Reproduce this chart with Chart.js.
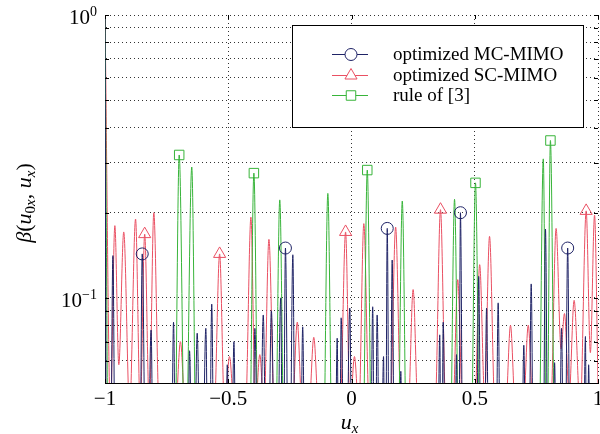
<!DOCTYPE html>
<html>
<head>
<meta charset="utf-8">
<script src="https://cdn.jsdelivr.net/npm/chart.js@4.4.1/dist/chart.umd.min.js"></script>
<style>
  html, body { margin: 0; padding: 0; background: #fff; }
  #wrap { width: 600px; height: 434px; }
</style>
</head>
<body>
<div id="wrap"><canvas id="beamChart" width="600" height="434"></canvas></div>
<script>
// beam pattern: u_x positions and beta values, lobe by lobe
const mcU = [
  -1, -0.993, -0.98, -0.968, -0.956, -0.861, -0.849, -0.831, -0.813, -0.801,
  -0.734, -0.722, -0.71, -0.667, -0.657, -0.642, -0.626, -0.609, -0.591, -0.579,
  -0.567, -0.555, -0.514, -0.504, -0.49, -0.477, -0.465, -0.404, -0.392, -0.375,
  -0.358, -0.342, -0.325, -0.306, -0.287, -0.278, -0.268, -0.253, -0.238, -0.226,
  -0.21, -0.198, -0.186, -0.07, -0.058, -0.05, -0.042, -0.025, -0.007, 0.005,
  0.074, 0.086, 0.095, 0.104, 0.117, 0.13, 0.137, 0.145, 0.155, 0.165,
  0.177, 0.19, 0.2, 0.21, 0.346, 0.358, 0.365, 0.372, 0.384, 0.415,
  0.426, 0.434, 0.442, 0.454, 0.504, 0.516, 0.528, 0.536, 0.548, 0.56,
  0.583, 0.595, 0.607, 0.687, 0.699, 0.711, 0.717, 0.729, 0.741, 0.775,
  0.787, 0.799, 0.814, 0.824, 0.834, 0.84, 0.852, 0.864, 0.877, 0.889,
  0.937, 0.949, 0.955, 0.962, 0.972, 1
];
const mcBeta = [
  1, 0.01, 0.01, 0.141, 0.01, 0.01, 0.143, 0.01, 0.077, 0.01,
  0.01, 0.082, 0.01, 0.01, 0.065, 0.01, 0.075, 0.01, 0.078, 0.01,
  0.095, 0.01, 0.01, 0.058, 0.01, 0.07, 0.01, 0.01, 0.078, 0.01,
  0.087, 0.01, 0.09, 0.01, 0.1, 0.01, 0.15, 0.01, 0.142, 0.01,
  0.01, 0.079, 0.01, 0.01, 0.072, 0.01, 0.085, 0.01, 0.092, 0.01,
  0.01, 0.093, 0.01, 0.087, 0.01, 0.062, 0.01, 0.176, 0.01, 0.136,
  0.01, 0.01, 0.055, 0.01, 0.01, 0.074, 0.01, 0.082, 0.01, 0.01,
  0.063, 0.01, 0.2, 0.01, 0.01, 0.119, 0.01, 0.01, 0.092, 0.01,
  0.01, 0.096, 0.01, 0.01, 0.068, 0.01, 0.01, 0.112, 0.01, 0.01,
  0.175, 0.01, 0.01, 0.059, 0.01, 0.01, 0.078, 0.01, 0.15, 0.01,
  0.01, 0.073, 0.01, 0.058, 0.01, 0.01
];

const scU = [
  -1, -0.978, -0.96, -0.944, -0.924, -0.9, -0.876, -0.857, -0.839, -0.82,
  -0.802, -0.78, -0.714, -0.694, -0.674, -0.557, -0.535, -0.515, -0.495, -0.475,
  -0.43, -0.408, -0.39, -0.372, -0.355, -0.335, -0.313, -0.24, -0.22, -0.2,
  -0.173, -0.153, -0.133, -0.046, -0.024, -0.006, 0.012, 0.03, 0.05, 0.072,
  0.157, 0.179, 0.201, 0.23, 0.25, 0.27, 0.339, 0.361, 0.383, 0.411,
  0.431, 0.451, 0.5, 0.52, 0.54, 0.56, 0.582, 0.625, 0.645, 0.665,
  0.697, 0.717, 0.737, 0.808, 0.83, 0.85, 0.864, 0.883, 0.903, 0.928,
  0.952, 0.969, 0.986, 1
];
const scBeta = [
  1, 0.04, 0.18, 0.058, 0.171, 0.04, 0.19, 0.04, 0.168, 0.04,
  0.2, 0.04, 0.04, 0.07, 0.04, 0.04, 0.143, 0.04, 0.062, 0.04,
  0.04, 0.193, 0.04, 0.063, 0.04, 0.161, 0.04, 0.04, 0.082, 0.04,
  0.04, 0.0725, 0.04, 0.04, 0.171, 0.04, 0.062, 0.04, 0.183, 0.04,
  0.04, 0.178, 0.04, 0.04, 0.107, 0.04, 0.04, 0.205, 0.04, 0.04,
  0.116, 0.04, 0.04, 0.131, 0.045, 0.165, 0.04, 0.04, 0.08, 0.04,
  0.04, 0.08, 0.04, 0.04, 0.176, 0.066, 0.088, 0.045, 0.098, 0.04,
  0.203, 0.064, 0.196, 0.05
];

const ruleU = [
  -1, -0.985, -0.719, -0.699, -0.674, -0.648, -0.628, -0.416, -0.396, -0.376,
  -0.311, -0.291, -0.271, -0.116, -0.096, -0.076, 0.044, 0.064, 0.084, 0.186,
  0.206, 0.226, 0.398, 0.418, 0.438, 0.483, 0.503, 0.523, 0.758, 0.778,
  0.792, 0.807, 0.827, 1
];
const ruleBeta = [
  1, 0.02, 0.02, 0.32, 0.02, 0.29, 0.02, 0.02, 0.276, 0.02,
  0.02, 0.222, 0.02, 0.02, 0.234, 0.02, 0.02, 0.283, 0.02, 0.02,
  0.22, 0.02, 0.02, 0.223, 0.02, 0.02, 0.255, 0.02, 0.02, 0.31,
  0.02, 0.36, 0.02, 0.02
];

// where the marks sit
const mcMarkU = [-0.849, -0.268, 0.145, 0.442, 0.877];
const scMarkU = [-0.839, -0.535, -0.024, 0.361, 0.952];
const ruleMarkU = [-0.699, -0.396, 0.064, 0.503, 0.807];

const seriesNames = ['optimized MC-MIMO', 'optimized SC-MIMO', 'rule of [3]'];
const xTicks = [-1, -0.5, 0, 0.5, 1];
const yTicks = [0.05, 0.06, 0.07, 0.08, 0.09, 0.1, 0.2, 0.3, 0.4, 0.5, 0.6, 0.7, 0.8, 0.9, 1];
const yLabelTicks = [1, 0.1];

const NAVY = '#1f2366';
const RED = '#ea5063';
const GREEN = '#38b43a';
const SERIF = '"Liberation Serif", "DejaVu Serif", serif';

const toPoints = (us, bs) => us.map((u, i) => ({ x: u, y: bs[i] }));

function makeSet(label, us, bs, marks, color, style, r, order) {
  return {
    label: label,
    data: toPoints(us, bs),
    borderColor: color,
    borderWidth: 1,
    cubicInterpolationMode: 'monotone',
    pointStyle: style,
    pointRadius: (c) => (c.raw && marks.includes(c.raw.x) ? r : 0),
    pointBorderColor: color,
    pointBorderWidth: 1,
    pointBackgroundColor: 'rgba(0,0,0,0)',
    order: order
  };
}

// draws a run of text pieces: [text, size, italic, dy]
function drawPieces(ctx, pieces, x, y, align) {
  let w = 0;
  pieces.forEach(p => {
    ctx.font = (p[2] ? 'italic ' : '') + p[1] + 'px ' + SERIF;
    w += ctx.measureText(p[0]).width;
  });
  let cx = align === 'center' ? x - w / 2 : (align === 'right' ? x - w : x);
  pieces.forEach(p => {
    ctx.font = (p[2] ? 'italic ' : '') + p[1] + 'px ' + SERIF;
    ctx.fillText(p[0], cx, y + (p[3] || 0));
    cx += ctx.measureText(p[0]).width;
  });
}

const decor = {
  id: 'decor',
  afterDraw(chart) {
    const ctx = chart.ctx;
    const a = chart.chartArea;
    const xs = chart.scales.x, ys = chart.scales.y;
    ctx.save();
    ctx.fillStyle = '#000';
    ctx.strokeStyle = '#000';
    ctx.lineWidth = 1;
    ctx.textBaseline = 'alphabetic';

    // inner tick marks
    ctx.beginPath();
    yTicks.forEach(v => {
      const y = Math.round(ys.getPixelForValue(v)) + 0.5;
      ctx.moveTo(a.left, y); ctx.lineTo(a.left + 4, y);
      ctx.moveTo(a.right, y); ctx.lineTo(a.right - 4, y);
    });
    xTicks.forEach(v => {
      const x = Math.round(xs.getPixelForValue(v)) + 0.5;
      ctx.moveTo(x, a.bottom); ctx.lineTo(x, a.bottom - 4);
      ctx.moveTo(x, a.top); ctx.lineTo(x, a.top + 4);
    });
    ctx.stroke();

    // x tick labels
    xTicks.forEach(v => {
      const t = v < 0 ? '\u2212' + Math.abs(v) : String(v);
      drawPieces(ctx, [[t, 21, false]], xs.getPixelForValue(v), a.bottom + 22, 'center');
    });

    // y tick labels 10^k
    yLabelTicks.forEach(v => {
      const y = ys.getPixelForValue(v);
      const k = Math.round(Math.log10(v));
      const sup = k < 0 ? '\u2212' + Math.abs(k) : String(k);
      drawPieces(ctx, [['10', 21, false], [sup, 14, false, -8]], a.left - 8, y + 9, 'right');
    });

    // axis titles
    drawPieces(ctx, [['u', 22, true], ['x', 15, true, 4]], (a.left + a.right) / 2 - 2, 429, 'center');
    ctx.save();
    ctx.translate(31, (a.top + a.bottom) / 2 + 4);
    ctx.rotate(-Math.PI / 2);
    drawPieces(ctx, [
      ['\u03b2', 22, true], ['(', 22, false], ['u', 22, true], ['0', 15, false, 4], ['x', 15, true, 4],
      [', ', 22, false], ['u', 22, true], ['x', 15, true, 4], [')', 22, false]
    ], 0, 0, 'center');
    ctx.restore();

    // legend box
    const bx = 292, by = 25, bw = 291, bh = 102;
    ctx.fillStyle = '#fff';
    ctx.fillRect(bx, by, bw, bh);
    ctx.strokeStyle = '#000';
    ctx.strokeRect(bx + 0.5, by + 0.5, bw, bh);
    const rows = [
      { y: 54, color: NAVY, style: 'circle', r: 6 },
      { y: 75, color: RED, style: 'triangle', r: 7 },
      { y: 95, color: GREEN, style: 'rect', r: 6.7 }
    ];
    rows.forEach((row, i) => {
      ctx.strokeStyle = row.color;
      ctx.lineWidth = 1;
      ctx.beginPath();
      ctx.moveTo(332, row.y + 0.5);
      ctx.lineTo(368, row.y + 0.5);
      ctx.stroke();
      ctx.fillStyle = '#fff';
      Chart.helpers.drawPoint(ctx, { pointStyle: row.style, radius: row.r, borderWidth: 1 }, 351, row.y + 0.5);
      ctx.fillStyle = '#000';
      drawPieces(ctx, [[seriesNames[i], 19, false]], 393, row.y + 6, 'left');
    });
    ctx.restore();
  }
};

const ctx = document.getElementById('beamChart').getContext('2d');
const chart = new Chart(ctx, {
  type: 'line',
  data: {
    datasets: [
      makeSet(seriesNames[0], mcU, mcBeta, mcMarkU, NAVY, 'circle', 6, 0),
      makeSet(seriesNames[1], scU, scBeta, scMarkU, RED, 'triangle', 7, 2),
      makeSet(seriesNames[2], ruleU, ruleBeta, ruleMarkU, GREEN, 'rect', 6.7, 1)
    ]
  },
  options: {
    responsive: false,
    animation: false,
    events: [],
    devicePixelRatio: 1,
    layout: { padding: { top: 15, right: 2, left: 0, bottom: 0 } },
    elements: { line: { capBezierPoints: false } },
    plugins: { legend: { display: false }, tooltip: { enabled: false } },
    scales: {
      x: {
        type: 'linear',
        min: -1,
        max: 1,
        ticks: { display: false, stepSize: 0.5 },
        grid: { color: 'rgba(0,0,0,0.8)', lineWidth: 1, drawTicks: false },
        border: { display: true, color: '#000', width: 1, dash: [1, 3] },
        afterFit: (s) => { s.height = 51; }
      },
      y: {
        type: 'logarithmic',
        min: 0.05,
        max: 1,
        afterBuildTicks: (s) => { s.ticks = yTicks.map(v => ({ value: v })); },
        ticks: { display: false, autoSkip: false },
        grid: { color: 'rgba(0,0,0,0.8)', lineWidth: 1, drawTicks: false },
        border: { display: true, color: '#000', width: 1, dash: [1, 3] },
        afterFit: (s) => { s.width = 105; }
      }
    }
  },
  plugins: [decor]
});
</script>
</body>
</html>
